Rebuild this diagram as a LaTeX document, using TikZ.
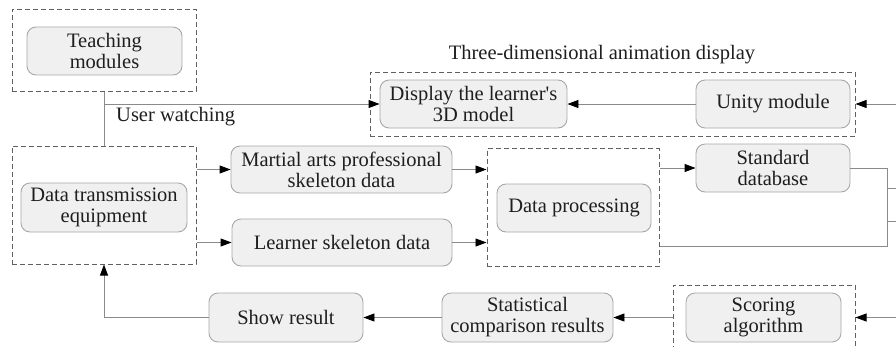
\documentclass[tikz,border=0pt]{standalone}
\usepackage{fontspec}
\setmainfont{Liberation Serif}[Ligatures=TeXOff]
\usetikzlibrary{arrows.meta,calc}
\definecolor{boxfill}{HTML}{F0F0F0}
\definecolor{boxline}{HTML}{A8A8A8}
\definecolor{dashline}{HTML}{606060}
\definecolor{conline}{HTML}{8A8A8A}
\definecolor{txt}{HTML}{1E1E1E}
\begin{document}
\begin{tikzpicture}[x=1pt,y=-1pt,
  every node/.style={text=txt},
  procbox/.style={draw=boxline, fill=boxfill, line width=0.9pt, rounded corners=9pt,
    align=center, inner sep=0pt, font=\fontsize{20.5}{21}\selectfont},
  groupbox/.style={draw=dashline, line width=1pt, dash pattern=on 5pt off 3pt, inner sep=0pt},
  conn/.style={draw=conline, line width=0.9pt},
  arr/.style={conn, -{Triangle[length=11pt,width=8pt,fill=black,color=black]}},
  lbl/.style={font=\fontsize{20.5}{21}\selectfont, inner sep=0pt}
]
\clip (0,0) rectangle (896,346);
% group boxes
\node[groupbox, minimum width=184pt, minimum height=82pt] (tdash) at (104,50) {};
\node[groupbox, minimum width=184pt, minimum height=118pt] (dtdash) at (104,205) {};
\node[groupbox, minimum width=172pt, minimum height=118pt] (dpdash) at (573,207.5) {};
\node[groupbox, minimum width=485pt, minimum height=64pt] (animdash) at (612.5,104) {};
\node[groupbox, minimum width=182pt, minimum height=87pt] (scdash) at (764,328.5) {};
% process boxes
\node[procbox, minimum width=155pt, minimum height=48pt] (teach) at (104.5,51) {Teaching\\modules};
\node[procbox, minimum width=166pt, minimum height=49pt] (dtrans) at (104,207.5) {Data transmission\\equipment};
\node[procbox, minimum width=221pt, minimum height=47pt] (martial) at (341.5,169.5) {Martial arts professional\\skeleton data};
\node[procbox, minimum width=220pt, minimum height=47pt] (learner) at (342,242.5) {Learner skeleton data};
\node[procbox, minimum width=154pt, minimum height=48pt] (dproc) at (574,208) {Data processing};
\node[procbox, minimum width=154pt, minimum height=48pt] (sdb) at (773,168) {Standard\\database};
\node[procbox, minimum width=187pt, minimum height=48pt] (display) at (473.5,104) {Display the learner's\\3D model};
\node[procbox, minimum width=154pt, minimum height=48pt] (unity) at (773,104) {Unity module};
\node[procbox, minimum width=154pt, minimum height=49pt] (show) at (286,317.5) {Show result};
\node[procbox, minimum width=171pt, minimum height=49pt] (stat) at (527.5,317.5) {Statistical\\comparison results};
\node[procbox, minimum width=155pt, minimum height=49pt] (score) at (763.5,317.5) {Scoring\\algorithm};
% labels
\node[lbl] (animlbl) at (602,55) {Three-dimensional animation display};
\node[lbl, anchor=west] (userlbl) at (116,117) {User watching};
% coordinates at the right edge
\coordinate (jtop) at (887,168);
\coordinate (jbot) at (887,246);
\coordinate (stubA) at (896,188);
\coordinate (stubAj) at (887,188);
\coordinate (stubB) at (896,221);
\coordinate (stubBj) at (887,221);
\coordinate (inUnity) at (896,104);
\coordinate (inScore) at (896,317.5);
% connectors
\draw[conn] (tdash.south) -- (dtdash.north);
\draw[arr] (tdash.south |- display.west) -- (display.west);
\draw[arr] (martial.west -| dtdash.east) -- (martial.west);
\draw[arr] (learner.west -| dtdash.east) -- (learner.west);
\draw[arr] (martial.east) -- (martial.east -| dpdash.west);
\draw[arr] (learner.east) -- (learner.east -| dpdash.west);
\draw[arr] (sdb.west -| dpdash.east) -- (sdb.west);
\draw[conn] (sdb.east) -- (jtop) -- (jbot) -- (jbot -| dpdash.east);
\draw[conn] (stubAj) -- (stubA);
\draw[conn] (stubBj) -- (stubB);
\draw[arr] (inUnity) -- (inUnity -| animdash.east);
\draw[arr] (unity.west) -- (display.east);
\draw[arr] (inScore) -- (inScore -| scdash.east);
\draw[arr] (score.west -| scdash.west) -- (stat.east);
\draw[arr] (stat.west) -- (show.east);
\draw[arr] (show.west) -| (dtdash.south);
\end{tikzpicture}
\end{document}
